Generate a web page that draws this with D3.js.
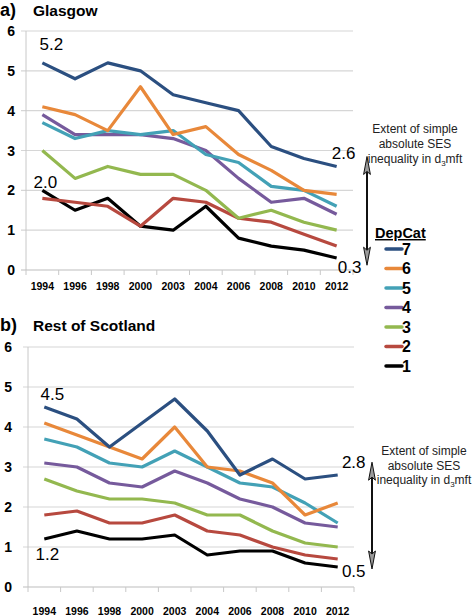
<!DOCTYPE html>
<html><head><meta charset="utf-8">
<script src="https://cdn.jsdelivr.net/npm/d3@7"></script>
<style>
html,body{margin:0;padding:0;background:#fff;}
svg{display:block;font-family:"Liberation Sans",Arial,Helvetica,sans-serif;}
</style></head>
<body>
<svg id="chart" width="472" height="616"></svg>
<script>
const years = ["1994","1996","1998","2000","2003","2004","2006","2008","2010","2012"];
const depcats = ["7","6","5","4","3","2","1"];
const colors = ["#2B4F80","#E8883A","#43A1B6","#765A9C","#93B84F","#B7493F","#000000"];
const yTicks = [0,1,2,3,4,5,6];

// Glasgow
const glasgow7 = [5.2,4.8,5.2,5.0,4.4,4.2,4.0,3.1,2.8,2.6];
const glasgow6 = [4.1,3.9,3.5,4.6,3.4,3.6,2.9,2.5,2.0,1.9];
const glasgow5 = [3.7,3.3,3.5,3.4,3.5,2.9,2.7,2.1,2.0,1.6];
const glasgow4 = [3.9,3.4,3.4,3.4,3.3,3.0,2.3,1.7,1.8,1.4];
const glasgow3 = [3.0,2.3,2.6,2.4,2.4,2.0,1.3,1.5,1.2,1.0];
const glasgow2 = [1.8,1.7,1.6,1.1,1.8,1.7,1.3,1.2,0.9,0.6];
const glasgow1 = [2.0,1.5,1.8,1.1,1.0,1.6,0.8,0.6,0.5,0.3];

// Rest of Scotland
const rest7 = [4.5,4.2,3.5,4.1,4.7,3.9,2.8,3.2,2.7,2.8];
const rest6 = [4.1,3.8,3.5,3.2,4.0,3.0,2.9,2.6,1.8,2.1];
const rest5 = [3.7,3.5,3.1,3.0,3.4,3.0,2.6,2.5,2.1,1.6];
const rest4 = [3.1,3.0,2.6,2.5,2.9,2.6,2.2,2.0,1.6,1.5];
const rest3 = [2.7,2.4,2.2,2.2,2.1,1.8,1.8,1.4,1.1,1.0];
const rest2 = [1.8,1.9,1.6,1.6,1.8,1.4,1.3,1.0,0.8,0.7];
const rest1 = [1.2,1.4,1.2,1.2,1.3,0.8,0.9,0.9,0.6,0.5];

const annotLines = ["Extent of simple","absolute SES"];

const svg = d3.select("#chart");

function panel(cfg){
  const g = svg.append("g");
  const x = d3.scaleBand().domain(years).range([cfg.x0, cfg.x1]).padding(0);
  const y = d3.scaleLinear().domain([0,6]).range([cfg.yb, cfg.yt]);
  const cx = d => x(d) + x.bandwidth()/2;

  g.selectAll(".grid").data(yTicks.filter(t=>t>0)).join("line")
    .attr("x1", cfg.x0-5).attr("x2", cfg.x1)
    .attr("y1", d=>y(d)).attr("y2", d=>y(d))
    .attr("stroke","#d6d6d6").attr("stroke-width",1.2);
  g.append("line").attr("x1",cfg.x0).attr("x2",cfg.x0).attr("y1",y(6)).attr("y2",y(0))
    .attr("stroke","#c8c8c8").attr("stroke-width",1);
  g.append("line").attr("x1",cfg.x0-5).attr("x2",cfg.x1).attr("y1",y(0)).attr("y2",y(0))
    .attr("stroke","#bdbdbd").attr("stroke-width",1.2);
  const bounds = years.map(d=>x(d)).concat([cfg.x1]);
  g.selectAll(".xt").data(bounds).join("line")
    .attr("x1",d=>d).attr("x2",d=>d).attr("y1",y(0)).attr("y2",y(0)+5)
    .attr("stroke","#c8c8c8").attr("stroke-width",1);
  g.selectAll(".yl").data(yTicks).join("text")
    .attr("x", cfg.ylx).attr("y", d=>y(d)).attr("dy","0.36em")
    .attr("text-anchor","end").attr("font-weight","bold").attr("font-size",14)
    .text(d=>d);
  g.selectAll(".xl").data(years).join("text")
    .attr("x", d=>cx(d)).attr("y", cfg.xly)
    .attr("text-anchor","middle").attr("font-weight","bold").attr("font-size",10.5)
    .text(d=>d);
  const line = d3.line().x((d,i)=>cx(years[i])).y(d=>y(d));
  g.selectAll(".series").data(cfg.series.slice().reverse()).join("path")
    .attr("d", d=>line(d.values))
    .attr("fill","none").attr("stroke", d=>d.color)
    .attr("stroke-width",3.2).attr("stroke-linejoin","round").attr("stroke-linecap","butt");
  g.append("text").attr("x",0).attr("y",cfg.titleY).attr("font-weight","bold").attr("font-size",18).text(cfg.letter);
  g.append("text").attr("x",33).attr("y",cfg.titleY).attr("font-weight","bold").attr("font-size",15.5).text(cfg.title);

  const first = cfg.series[0].values, last = cfg.series[cfg.series.length-1].values;
  const n = years.length-1;
  const lab = (xx, yy, v, anchor) => g.append("text").attr("x",xx).attr("y",yy)
    .attr("text-anchor",anchor||"middle").attr("font-size",17).text(v.toFixed(1));
  cfg.labels(lab, x, y, cx, first, last, n);

  const ax = cfg.arrowX, ya = y(cfg.arrowTop), yb = y(cfg.arrowBot);
  g.append("line").attr("x1",ax).attr("x2",ax).attr("y1",ya+6).attr("y2",yb-6)
    .attr("stroke","#111").attr("stroke-width",2);
  const head = (tip, dir) => {
    const L = 18, W = 3.4;
    g.append("path")
      .attr("d", `M${ax},${tip} L${ax-W},${tip+dir*L} L${ax},${tip+dir*(L-3)} L${ax+W},${tip+dir*L} Z`)
      .attr("fill","#9a9a9a").attr("stroke","#111").attr("stroke-width",1);
  };
  head(ya, 1); head(yb, -1);
  const t = g.append("text").attr("font-size",12).attr("text-anchor","middle").attr("fill","#222");
  annotLines.forEach((s,i)=>{
    t.append("tspan").attr("x",cfg.annX).attr("y",cfg.annY + i*cfg.annDy).text(s);
  });
  t.append("tspan").attr("x",cfg.annX).attr("y",cfg.annY + 2*cfg.annDy).text("inequality in d");
  t.append("tspan").attr("font-size",8).attr("dy",2.5).text("3");
  t.append("tspan").attr("dy",-2.5).text("mft");
}

const mk = arr => arr.map((v,i)=>({key:depcats[i], color:colors[i], values:v}));

panel({
  x0:26, x1:353, yt:31, yb:270, ylx:15, xly:290,
  titleY:16, letter:"a)", title:"Glasgow",
  series: mk([glasgow7,glasgow6,glasgow5,glasgow4,glasgow3,glasgow2,glasgow1]),
  labels:(lab,x,y,cx,first,last,n)=>{
    lab(cx(years[0])+9, y(first[0])-13, first[0]);
    lab(cx(years[0])+3, y(last[0])-2, last[0]);
    lab(cx(years[n])+7, y(first[n])-7, first[n]);
    lab(cx(years[n])+13, y(last[n])+15, last[n]);
  },
  arrowX:367, arrowTop:2.85, arrowBot:0.12,
  annX:415, annY:133, annDy:15
});

panel({
  x0:28, x1:354, yt:347, yb:587, ylx:12, xly:615,
  titleY:331, letter:"b)", title:"Rest of Scotland",
  series: mk([rest7,rest6,rest5,rest4,rest3,rest2,rest1]),
  labels:(lab,x,y,cx,first,last,n)=>{
    lab(cx(years[0])+8, y(first[0])-7, first[0]);
    lab(cx(years[0])+3, y(last[0])+21, last[0]);
    lab(cx(years[n])+16, y(first[n])-7, first[n]);
    lab(cx(years[n])+16, y(last[n])+10, last[n]);
  },
  arrowX:372, arrowTop:3.12, arrowBot:0.45,
  annX:424, annY:455, annDy:14.5
});

const lg = svg.append("g");
lg.append("text").attr("x",375).attr("y",238).attr("font-weight","bold").attr("font-size",14.5)
  .attr("text-decoration","underline").text("DepCat");
const rowY = d3.scalePoint().domain(depcats).range([249,366]);
depcats.forEach((d,i)=>{
  lg.append("line").attr("x1",386).attr("x2",402).attr("y1",rowY(d)).attr("y2",rowY(d))
    .attr("stroke",colors[i]).attr("stroke-width",3.5).attr("stroke-linecap","round");
  lg.append("text").attr("x",402).attr("y",rowY(d)).attr("dy","0.36em")
    .attr("font-weight","bold").attr("font-size",16).text(d);
});
</script>
</body></html>
